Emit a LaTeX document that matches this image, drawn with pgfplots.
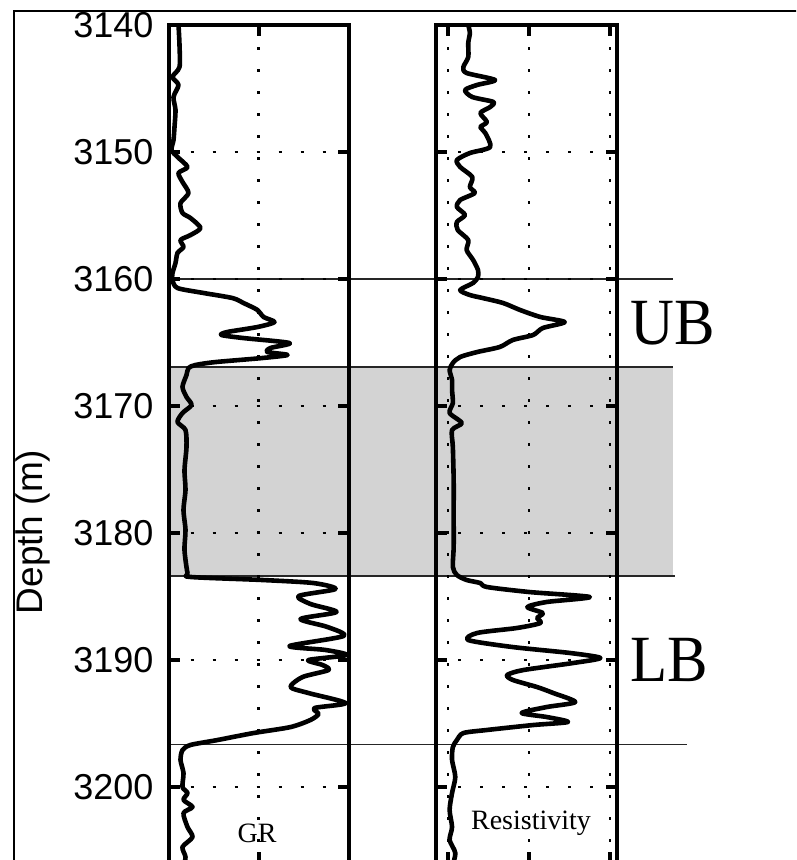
\documentclass[border=0pt]{standalone}
\usepackage{fontspec}
\setmainfont{Liberation Serif}
\newfontfamily\arial{Liberation Sans}
\usepackage{graphicx}
\usepackage{pgfplots}
\pgfplotsset{compat=1.18}
\usepackage{pgfplotstable}
\definecolor{band}{HTML}{D3D3D3}

% GR log (depth in m, GR in API-like units)
\pgfplotstableread{
depth gr
3140.00 10
3141.57 11
3143.31 11
3144.09 4
3144.72 10
3145.67 5
3146.69 7
3148.03 6
3149.06 5
3149.84 3
3150.39 9
3151.18 19
3151.65 10
3152.36 14
3153.23 20
3154.02 12
3154.80 14
3155.20 22
3155.98 32
3156.54 22
3156.93 12
3157.48 15
3157.95 9
3158.74 7
3159.53 4
3160.08 4
3160.71 9
3161.10 35
3161.50 64
3161.89 75
3162.44 89
3162.99 95
3163.39 106
3163.78 89
3164.17 59
3164.41 53
3164.65 75
3165.04 121
3165.43 102
3165.75 99
3165.98 119
3166.22 94
3166.54 47
3166.77 27
3167.01 20
3167.56 18
3168.50 14
3169.29 18
3169.92 23
3170.55 14
3171.26 9
3171.89 17
3173.23 18
3175.04 16
3176.61 17
3178.19 15
3179.76 17
3181.34 16
3183.15 19
3183.46 22
3183.70 94
3183.94 145
3184.41 167
3184.96 130
3185.59 142
3186.22 168
3186.77 132
3187.40 159
3188.11 175
3188.90 121
3189.21 157
3189.61 178
3190.00 140
3190.39 154
3190.79 160
3191.34 134
3192.13 122
3192.60 140
3193.39 177
3193.78 146
3194.25 150
3194.72 142
3195.28 122
3195.75 85
3196.30 49
3196.69 22
3197.09 14
3197.87 12
3198.90 15
3200.00 14
3200.47 19
3201.02 15
3201.57 24
3202.05 15
3203.15 19
3203.94 24
3204.72 14
3205.51 17
3206.38 15
}\grdata

% resistivity log (log10 of ohm m)
\pgfplotstableread{
depth res
3140.00 0.25
3140.63 0.27
3141.42 0.25
3142.52 0.25
3143.31 0.19
3143.78 0.23
3144.33 0.58
3144.72 0.36
3145.12 0.21
3145.67 0.30
3146.06 0.56
3146.46 0.52
3146.93 0.40
3147.64 0.48
3148.03 0.40
3148.50 0.46
3149.61 0.52
3150.08 0.27
3150.63 0.11
3151.18 0.15
3151.97 0.30
3152.76 0.27
3153.23 0.33
3153.78 0.15
3154.33 0.11
3154.96 0.21
3155.51 0.11
3156.14 0.12
3156.93 0.25
3157.72 0.23
3158.50 0.31
3159.29 0.37
3159.84 0.37
3160.31 0.31
3160.87 0.15
3161.26 0.27
3161.50 0.43
3161.89 0.68
3162.44 0.89
3162.99 1.14
3163.39 1.44
3163.86 1.17
3164.41 1.05
3164.80 0.80
3165.35 0.64
3165.75 0.36
3166.14 0.15
3166.61 0.06
3167.17 0.02
3167.95 0.05
3168.74 0.05
3169.76 0.06
3170.55 0.02
3171.34 0.17
3171.89 0.05
3173.23 0.06
3175.83 0.07
3178.43 0.07
3181.10 0.07
3182.68 0.06
3183.31 0.11
3183.70 0.23
3183.94 0.40
3184.25 0.48
3184.65 1.01
3185.04 1.75
3185.43 1.22
3185.83 0.98
3186.30 1.17
3186.69 1.10
3187.09 1.14
3187.48 0.85
3187.87 0.36
3188.43 0.25
3188.98 0.80
3189.45 1.51
3189.84 1.88
3190.24 1.54
3190.79 0.93
3191.18 0.73
3191.57 0.80
3192.13 1.10
3192.60 1.30
3193.31 1.57
3193.70 1.22
3194.17 0.91
3194.49 1.22
3194.88 1.48
3195.12 1.05
3195.51 0.48
3195.75 0.19
3196.30 0.11
3196.85 0.06
3197.87 0.05
3199.21 0.09
3200.47 0.05
3201.81 0.02
3203.15 0.05
3204.17 0.02
3205.20 0.09
3206.38 0.05
}\resdata

\pgfplotsset{
  logtrack/.style={
    scale only axis, anchor=north west,
    height=419.1pt,
    ymin=3140, ymax=3206, y dir=reverse,
    ytick={3140,3150,...,3200},
    axis line style={line width=2pt, black},
    tick align=inside,
    major tick length=5.5pt,
    tick style={line width=2pt, black},
    grid=major,
    major grid style={line width=1.3pt, black, dash pattern=on 1.6pt off 9.4pt},
    axis on top, clip=false,
    xticklabel=\empty,
  },
}
\tikzset{
  curve/.style={black, line width=2.3pt, line join=round, smooth, tension=0.45},
  sep/.style={line width=0.7pt, black!85},
}

\begin{document}
\begin{tikzpicture}
\useasboundingbox (0,0) rectangle (398pt,-430pt);
\clip (0,0) rectangle (398pt,-430pt);

\begin{axis}[logtrack, at={(84.25pt,-12.5pt)}, width=90pt,
  xmin=0, xmax=180, xtick={90},
  yticklabels={3140,3150,3160,3170,3180,3190,3200},
  /pgf/number format/assume math mode=true,
  yticklabel style={font=\arial\fontsize{18}{20}\selectfont, xshift=-4pt}]
  \fill[band] (axis cs:1,3166.93) rectangle (axis cs:504.5,3183.4);
  \draw[sep] (axis cs:0,3160) -- (axis cs:504.5,3160);
  \draw[sep] (axis cs:1,3166.93) -- (axis cs:504.5,3166.93);
  \draw[sep] (axis cs:1,3183.4) -- (axis cs:506.5,3183.4);
  \draw[sep] (axis cs:0,3196.65) -- (axis cs:518.5,3196.65);
  \addplot[curve, no marks] table[x=gr, y=depth] {\grdata};
\end{axis}

\begin{axis}[logtrack, at={(218pt,-12.5pt)}, width=90.5pt,
  xmin=-0.148, xmax=2.086, xtick={0,1,2},
  yticklabel=\empty]
  \addplot[curve, no marks] table[x=res, y=depth] {\resdata};
\end{axis}

\draw[line width=1pt] (7pt,-440pt) -- (7pt,-5.5pt) -- (410pt,-5.5pt);

\node[font=\arial\fontsize{18.5}{21}\selectfont, rotate=90] at (16.5pt,-266pt) {Depth (m)};
\node[font=\fontsize{14}{16}\selectfont] at (128.5pt,-416.5pt) {GR};
\node[font=\fontsize{14}{16}\selectfont] at (265.5pt,-411.75pt) {Resistivity};
\node[anchor=base west, inner sep=0pt, font=\fontsize{33}{36}\selectfont] at (315pt,-172.5pt) {\scalebox{0.92}[1]{UB}};
\node[anchor=base west, inner sep=0pt, font=\fontsize{33}{36}\selectfont] at (315pt,-340.5pt) {\scalebox{0.92}[1]{LB}};
\end{tikzpicture}
\end{document}
